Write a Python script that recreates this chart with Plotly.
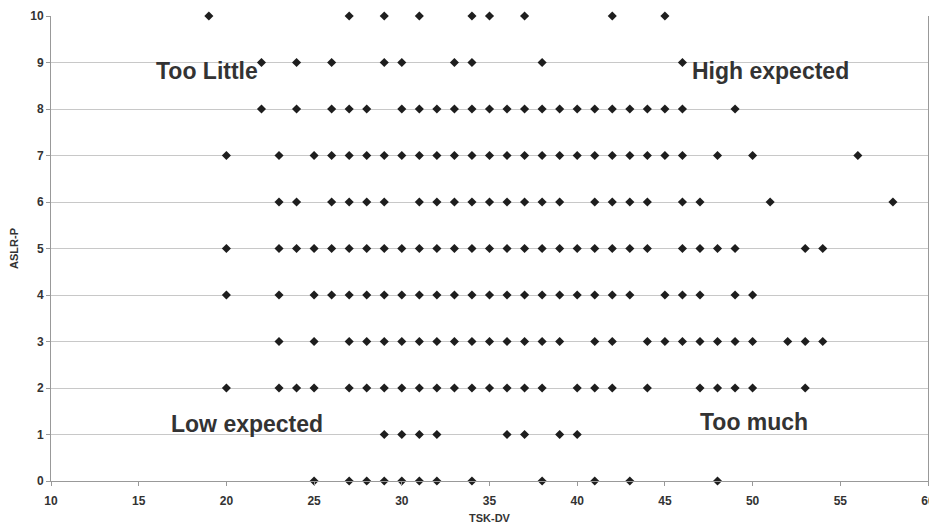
import plotly.graph_objects as go

# ASLR-P level -> TSK-DV values observed at that level
aslr_levels = [10, 9, 8, 7, 6, 5, 4, 3, 2, 1, 0]
tsk_by_level = {
    10: [19, 27, 29, 31, 34, 35, 37, 42, 45],
    9: [22, 24, 26, 29, 30, 33, 34, 38, 46],
    8: [22, 24, 26, 27, 28, 30, 31, 32, 33, 34, 35, 36, 37, 38, 39, 40, 41, 42, 43, 44, 45, 46, 49],
    7: [20, 23, 25, 26, 27, 28, 29, 30, 31, 32, 33, 34, 35, 36, 37, 38, 39, 40, 41, 42, 43, 44, 45, 46, 48, 50, 56],
    6: [23, 24, 26, 27, 28, 29, 31, 32, 33, 34, 35, 36, 37, 38, 39, 41, 42, 43, 44, 46, 47, 51, 58],
    5: [20, 23, 24, 25, 26, 27, 28, 29, 30, 31, 32, 33, 34, 35, 36, 37, 38, 39, 40, 41, 42, 43, 44, 46, 47, 48, 49, 53, 54],
    4: [20, 23, 25, 26, 27, 28, 29, 30, 31, 32, 33, 34, 35, 36, 37, 38, 39, 40, 41, 42, 43, 45, 46, 47, 49, 50],
    3: [23, 25, 27, 28, 29, 30, 31, 32, 33, 34, 35, 36, 37, 38, 39, 41, 42, 44, 45, 46, 47, 48, 49, 50, 52, 53, 54],
    2: [20, 23, 24, 25, 27, 28, 29, 30, 31, 32, 33, 34, 35, 36, 37, 38, 40, 41, 42, 44, 47, 48, 49, 50, 53],
    1: [29, 30, 31, 32, 36, 37, 39, 40],
    0: [25, 27, 28, 29, 30, 31, 32, 34, 38, 41, 43, 48],
}

quadrant_labels = ["Too Little", "High expected", "Low expected", "Too much"]
quadrant_x = [18.9, 51.0, 21.2, 50.1]
quadrant_y = [8.82, 8.82, 1.23, 1.27]

x_ticks = [10, 15, 20, 25, 30, 35, 40, 45, 50, 55, 60]
y_ticks = [0, 1, 2, 3, 4, 5, 6, 7, 8, 9, 10]

xs, ys = [], []
for lvl in aslr_levels:
    for v in tsk_by_level[lvl]:
        xs.append(v)
        ys.append(lvl)

fig = go.Figure()
fig.add_trace(go.Scatter(
    x=xs, y=ys, mode="markers",
    marker=dict(symbol="diamond", size=7, color="#1e1e1e"),
    cliponaxis=False, showlegend=False,
))

for t, ax, ay in zip(quadrant_labels, quadrant_x, quadrant_y):
    fig.add_annotation(x=ax, y=ay, text="<b>" + t + "</b>", showarrow=False,
                       font=dict(family="Liberation Sans", size=23, color="#333333"),
                       xanchor="center", yanchor="middle")

fig.update_layout(
    width=929, height=516,
    margin=dict(l=43, r=9, t=8, b=43, autoexpand=False),
    paper_bgcolor="white", plot_bgcolor="white",
    font=dict(family="Liberation Sans", size=12, color="#333333"),
)
fig.update_xaxes(
    range=[10, 60], tickvals=x_ticks, ticktext=["<b>%d</b>" % v for v in x_ticks],
    showgrid=False, zeroline=False, showline=True, linecolor="#999999", linewidth=1,
    ticks="outside", ticklen=4, tickcolor="#999999", automargin=False,
    ticklabelstandoff=5, ticklabeloverflow="allow",
    title=dict(text="<b>TSK-DV</b>", font=dict(size=11), standoff=12),
)
fig.update_yaxes(
    range=[0, 10], tickvals=y_ticks, ticktext=["<b>%d</b>" % v for v in y_ticks],
    showgrid=True, gridcolor="#c8c8c8", gridwidth=1, zeroline=False,
    showline=True, mirror=True, linecolor="#999999", linewidth=1,
    ticks="outside", ticklen=4, tickcolor="#999999", automargin=False,
    title=dict(text="<b>ASLR-P</b>", font=dict(size=11), standoff=12),
)

fig.write_html("out.html")
